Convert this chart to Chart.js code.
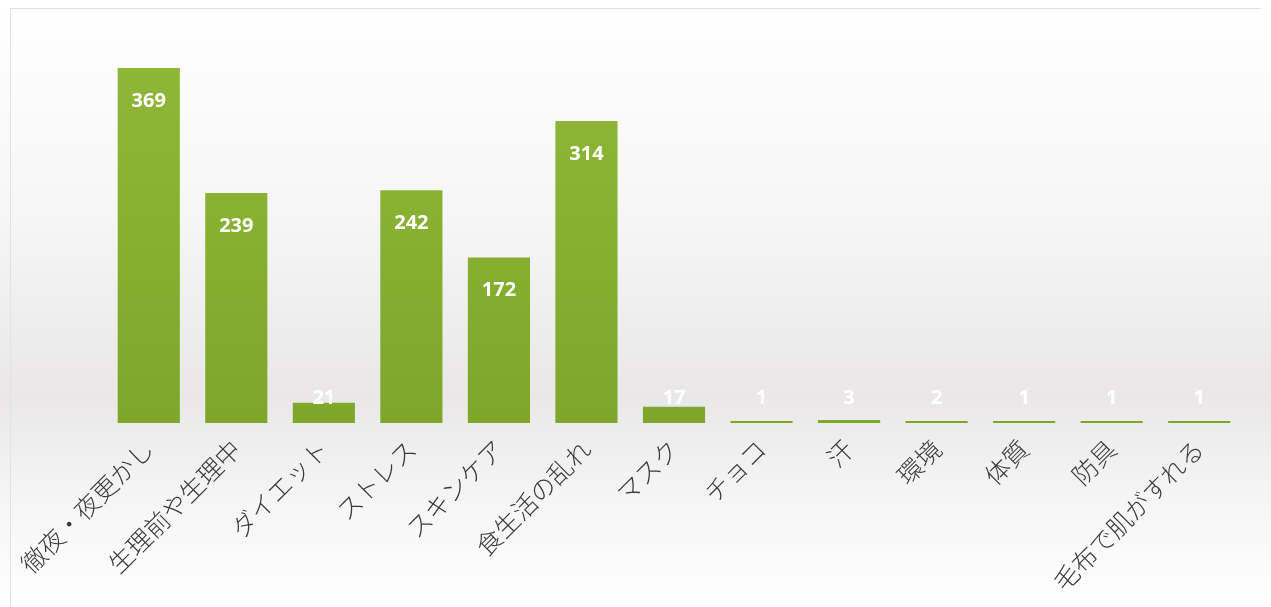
<!DOCTYPE html>
<html>
<head>
<meta charset="utf-8">
<script src="https://cdn.jsdelivr.net/npm/chart.js@4/dist/chart.umd.min.js"></script>
<style>
  html, body { margin: 0; padding: 0; background: #fff; }
  #wrap { width: 1271px; height: 607px; }
</style>
</head>
<body>
<div id="wrap"><canvas id="myChart"></canvas></div>
<script>
// categories and counts
const labels = ["徹夜・夜更かし", "生理前や生理中", "ダイエット", "ストレス", "スキンケア", "食生活の乱れ", "マスク", "チョコ", "汗", "環境", "体質", "防具", "毛布で肌がすれる"];
const counts = [369, 239, 21, 242, 172, 314, 17, 1, 3, 2, 1, 1, 1];

// soft grey background like the scanned page
const bgPlugin = {
    id: "bg",
    beforeDraw(chart) {
        const c = chart.ctx;
        const g = c.createLinearGradient(0, 0, 0, chart.height);
        g.addColorStop(0, "#ffffff");
        g.addColorStop(0.35, "#f7f6f6");
        g.addColorStop(0.65, "#e9e7e7");
        g.addColorStop(0.82, "#f6f5f5");
        g.addColorStop(1, "#ffffff");
        c.save();
        c.fillStyle = g;
        c.fillRect(0, 0, chart.width, chart.height);
        c.strokeStyle = "#e2e2e2";
        c.lineWidth = 1;
        c.beginPath();
        c.moveTo(10.5, 8);
        c.lineTo(10.5, chart.height);
        c.moveTo(10, 8.5);
        c.lineTo(chart.width - 10, 8.5);
        c.stroke();
        c.restore();
    }
};

// white numbers on top of the bars
const valuePlugin = {
    id: "values",
    afterDatasetsDraw(chart) {
        const c = chart.ctx;
        const meta = chart.getDatasetMeta(0);
        c.save();
        c.fillStyle = "#ffffff";
        c.font = "bold 20px 'Open Sans'";
        c.textAlign = "center";
        c.textBaseline = "middle";
        meta.data.forEach(function(bar, i) {
            const y = Math.min(bar.y + 33, bar.base - 25);
            c.fillText(String(counts[i]), bar.x, y);
        });
        c.restore();
    }
};

const ctx = document.getElementById("myChart");

let data = {
    labels: labels,
    datasets: [{
        data: counts,
        backgroundColor: function(context) {
            const area = context.chart.chartArea;
            if (!area) return "#8ab22e";
            const g = context.chart.ctx.createLinearGradient(0, area.top, 0, area.bottom);
            g.addColorStop(0, "#8fb737");
            g.addColorStop(1, "#7ea72a");
            return g;
        },
        borderWidth: 0,
        categoryPercentage: 1,
        barPercentage: 0.71,
        minBarLength: 2
    }]
};

let config = {
    type: "bar",
    data: data,
    options: {
        responsive: true,
        maintainAspectRatio: false,
        animation: false,
        layout: { padding: { top: 68, left: 105, right: 28, bottom: 0 } },
        plugins: {
            legend: { display: false },
            tooltip: { enabled: false }
        },
        scales: {
            y: {
                display: false,
                min: 0,
                max: 369
            },
            x: {
                grid: { display: false },
                border: { display: false },
                afterFit: function(scale) {
                    scale.height = 184;
                },
                ticks: {
                    color: "#3a3a3a",
                    font: { family: "'Noto Sans CJK JP'", size: 25, weight: 300 },
                    minRotation: 45,
                    maxRotation: 45,
                    autoSkip: false,
                    padding: 3
                }
            }
        }
    },
    plugins: [bgPlugin, valuePlugin]
};

let myChart = new Chart(ctx, config);
</script>
</body>
</html>
